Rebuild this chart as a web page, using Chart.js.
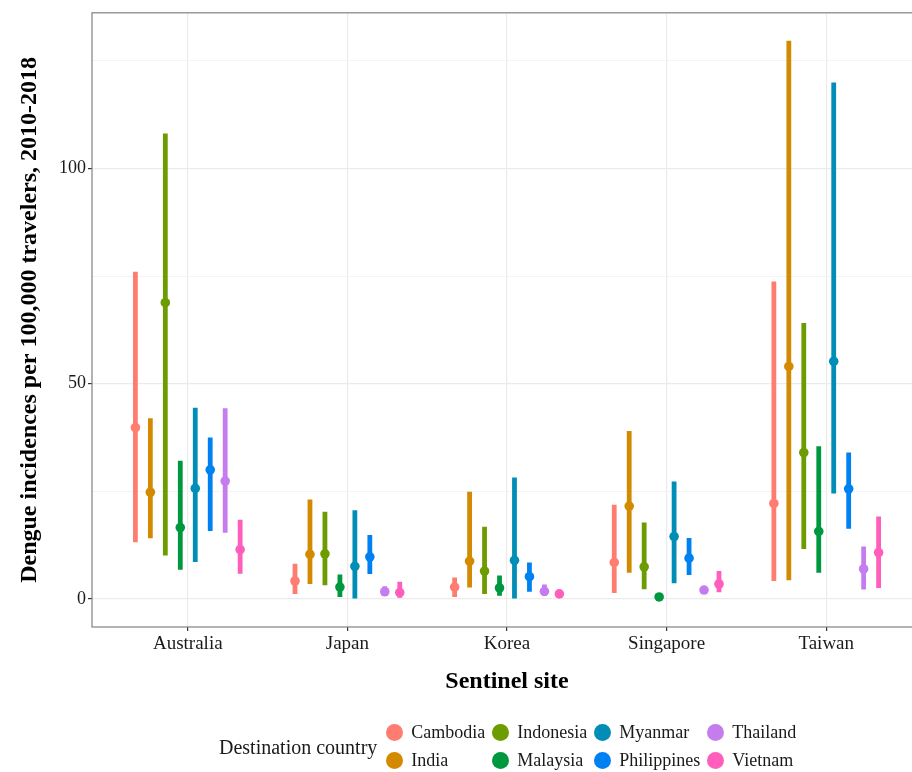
<!DOCTYPE html>
<html>
<head>
<meta charset="utf-8">
<script src="https://cdn.jsdelivr.net/npm/chart.js@4"></script>
<style>
  body { margin: 0; background: #fff; }
  #wrap { position: relative; width: 912px; height: 772px; overflow: hidden; }
  #legend { position: absolute; left: 219px; top: 718px; display: flex; align-items: center;
            font-family: "Liberation Serif", "Times New Roman", serif; color: #1a1a1a; }
  #legend .ltitle { font-size: 20px; margin-right: 9px; padding-top: 3px; }
  #legend .items { display: grid; grid-template-rows: 28px 28px; grid-auto-flow: column; column-gap: 7px; }
  #legend .item { display: flex; align-items: center; font-size: 18px; line-height: 28px; }
  #legend .dot { width: 17px; height: 17px; border-radius: 50%; margin-right: 8px; }
</style>
</head>
<body>
<div id="wrap">
  <canvas id="myChart" width="924" height="772"></canvas>
  <div id="legend">
    <div class="ltitle">Destination country</div>
    <div class="items" id="items"></div>
  </div>
</div>
<script>
// sentinel sites (x axis)
const sites = ['Australia', 'Japan', 'Korea', 'Singapore', 'Taiwan'];
// destination countries (series)
const countries = ['Cambodia', 'India', 'Indonesia', 'Malaysia', 'Myanmar', 'Philippines', 'Thailand', 'Vietnam'];
const colors = ['#FF7D70', '#D48A00', '#6C9C00', '#00983F', '#008EB6', '#0081F2', '#C57CEE', '#FF5EBC'];

// point estimate, per country, per site
const incidence = [
  [39.8, 4.2, 2.8, 8.5, 22.2],
  [24.8, 10.4, 8.8, 21.6, 54.0],
  [68.8, 10.5, 6.5, 7.5, 34.0],
  [16.6, 2.8, 2.6, 0.5, 15.7],
  [25.7, 7.6, 9.0, 14.5, 55.2],
  [30.0, 9.8, 5.2, 9.5, 25.6],
  [27.4, 1.7, 1.8, 2.1, 7.0],
  [11.5, 1.5, 1.2, 3.5, 10.8]
];
// lower bound
const lower = [
  [13.2, 1.2, 0.5, 1.4, 4.2],
  [14.1, 3.5, 2.7, 6.1, 4.4],
  [10.1, 3.2, 1.2, 2.3, 11.6],
  [6.8, 0.5, 0.8, 0.5, 6.1],
  [8.6, 0.0, 0.0, 3.7, 24.5],
  [15.8, 5.8, 1.7, 5.6, 16.3],
  [15.4, 0.9, 0.8, 1.2, 2.2],
  [5.9, 0.3, 1.2, 1.6, 2.6]
];
// upper bound
const upper = [
  [76.0, 8.2, 5.0, 21.9, 73.7],
  [42.0, 23.1, 24.9, 39.0, 129.6],
  [108.1, 20.3, 16.8, 17.8, 64.1],
  [32.1, 5.7, 5.5, 0.5, 35.5],
  [44.4, 20.6, 28.2, 27.3, 119.9],
  [37.5, 14.9, 8.5, 14.2, 34.0],
  [44.3, 3.0, 3.4, 3.0, 12.2],
  [18.4, 4.0, 1.2, 6.5, 19.2]
];
const yTicks = [0, 25, 50, 75, 100, 125];

const serif = '"Liberation Serif", "Times New Roman", serif';

// legend
const items = document.getElementById('items');
countries.forEach((c, i) => {
  const d = document.createElement('div');
  d.className = 'item';
  d.innerHTML = '<span class="dot" style="background:' + colors[i] + '"></span>' + c;
  items.appendChild(d);
});

// points on top of the ranges + panel border
const pointPlugin = {
  id: 'points',
  afterDatasetsDraw(chart) {
    const ctx = chart.ctx;
    const y = chart.scales.y;
    chart.data.datasets.forEach((ds, i) => {
      const meta = chart.getDatasetMeta(i);
      meta.data.forEach((bar, j) => {
        ctx.beginPath();
        ctx.arc(bar.x, y.getPixelForValue(incidence[i][j]), 4.8, 0, Math.PI * 2);
        ctx.fillStyle = colors[i];
        ctx.fill();
      });
    });
    const a = chart.chartArea;
    ctx.strokeStyle = '#808080';
    ctx.lineWidth = 1.2;
    ctx.strokeRect(a.left, a.top, a.right - a.left, a.bottom - a.top);
  }
};

const datasets = countries.map((c, i) => ({
  label: c,
  data: sites.map((s, j) => ({ x: j, y: [lower[i][j], upper[i][j]] })),
  backgroundColor: colors[i],
  borderWidth: 0,
  categoryPercentage: 0.75,
  barPercentage: 0.32
}));

new Chart(document.getElementById('myChart'), {
  type: 'bar',
  data: { datasets: datasets },
  plugins: [pointPlugin],
  options: {
    responsive: false,
    animation: false,
    devicePixelRatio: 1,
    layout: { padding: { left: 0, top: 6, right: 2, bottom: 72 } },
    plugins: { legend: { display: false }, tooltip: { enabled: false } },
    scales: {
      x: {
        type: 'linear',
        min: -0.6,
        max: 4.6,
        offset: false,
        afterBuildTicks: scale => { scale.ticks = sites.map((s, i) => ({ value: i })); },
        afterFit: scale => { scale.height = 73; },
        border: { display: false },
        grid: { offset: false, color: '#EBEBEB', lineWidth: 1.2, tickLength: 4, tickColor: '#333' },
        ticks: {
          autoSkip: false, maxRotation: 0, padding: 2,
          color: '#1a1a1a',
          font: { family: serif, size: 19 },
          callback: v => sites[v]
        },
        title: {
          display: true, text: 'Sentinel site', color: '#000',
          font: { family: serif, size: 24, weight: 'bold' },
          padding: { top: 0, bottom: 4 }
        }
      },
      y: {
        min: -6.48,
        max: 136.1,
        afterBuildTicks: scale => { scale.ticks = yTicks.map(v => ({ value: v })); },
        afterFit: scale => { scale.width = 92; },
        border: { display: false },
        grid: {
          color: c => (c.tick && c.tick.value % 50 === 0) ? '#EBEBEB' : '#F3F3F3',
          lineWidth: c => (c.tick && c.tick.value % 50 === 0) ? 1.2 : 0.9,
          tickLength: 4,
          tickColor: c => (c.tick && c.tick.value % 50 === 0) ? '#333' : 'rgba(0,0,0,0)'
        },
        ticks: {
          padding: 2,
          color: '#1a1a1a',
          font: { family: serif, size: 18 },
          callback: v => v % 50 === 0 ? v : ''
        },
        title: {
          display: true, text: 'Dengue incidences per 100,000 travelers, 2010-2018', color: '#000',
          font: { family: serif, size: 24, weight: 'bold' },
          padding: { top: 15, bottom: 0 }
        }
      }
    }
  }
});
</script>
</body>
</html>
